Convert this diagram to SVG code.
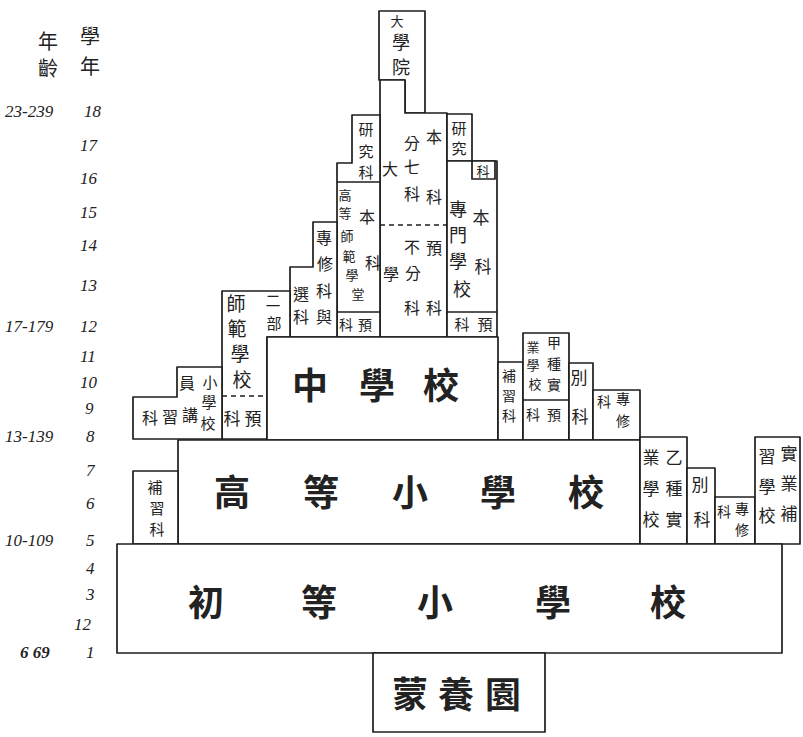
<svg xmlns="http://www.w3.org/2000/svg" width="803" height="737" viewBox="0 0 803 737">
<style>
.b{fill:#fff;stroke:#1e1e1e;stroke-width:1.7;stroke-linejoin:round}
.l{fill:none;stroke:#1e1e1e;stroke-width:1.5}
.d{fill:none;stroke:#1e1e1e;stroke-width:1.3;stroke-dasharray:5 4}
.t{font-family:"Noto Sans CJK TC","Noto Sans CJK JP",sans-serif;fill:#222;text-anchor:middle;dominant-baseline:central}
.s13{font-size:13px}.s14{font-size:14px}.s15{font-size:15px}.s16{font-size:16px}.s17{font-size:17px}.s18{font-size:18px}.s19{font-size:19px}.s20{font-size:20px}
.big{font-size:36px;font-weight:bold}
.n{font-family:"Liberation Serif",serif;font-style:italic;font-size:17px;fill:#222}
</style>
<rect width="803" height="737" fill="#fff"/>

<g id="axis">
<text class="t s20" x="48" y="40">年</text>
<text class="t s20" x="48" y="67">齡</text>
<text class="t s20" x="90" y="35">學</text>
<text class="t s20" x="90" y="65">年</text>
<text class="n" x="5" y="117">23-239</text>
<text class="n" x="84" y="117">18</text>
<text class="n" x="80" y="151">17</text>
<text class="n" x="80" y="184">16</text>
<text class="n" x="80" y="218">15</text>
<text class="n" x="80" y="251">14</text>
<text class="n" x="80" y="291">13</text>
<text class="n" x="5" y="332">17-179</text>
<text class="n" x="80" y="332">12</text>
<text class="n" x="80" y="362">11</text>
<text class="n" x="80" y="388">10</text>
<text class="n" x="85" y="414">9</text>
<text class="n" x="5" y="442">13-139</text>
<text class="n" x="86" y="442">8</text>
<text class="n" x="86" y="476">7</text>
<text class="n" x="86" y="509">6</text>
<text class="n" x="5" y="546">10-109</text>
<text class="n" x="86" y="546">5</text>
<text class="n" x="86" y="574">4</text>
<text class="n" x="86" y="600">3</text>
<text class="n" x="74" y="630">12</text>
<text class="n" x="20" y="658" font-weight="bold">6 69</text>
<text class="n" x="86" y="658">1</text>
</g>

<g id="daigakuin">
<polygon class="b" points="379,11 425,11 425,113 405,113 405,80 379,80"/>
<text class="t s13" x="397" y="20">大</text>
<text class="t s18" x="401" y="41">學</text>
<text class="t s18" x="401" y="66">院</text>
</g>

<g id="daigaku">
<polygon class="b" points="380,80 405,80 405,113 447,113 447,337 380,337"/>
<line class="d" x1="380" y1="225" x2="447" y2="225"/>
<text class="t s16" x="434" y="136">本</text>
<text class="t s16" x="412" y="142">分</text>
<text class="t s16" x="390" y="168">大</text>
<text class="t s16" x="412" y="166">七</text>
<text class="t s16" x="412" y="193">科</text>
<text class="t s16" x="434" y="196">科</text>
<text class="t s16" x="412" y="246">不</text>
<text class="t s16" x="434" y="247">預</text>
<text class="t s16" x="391" y="273">學</text>
<text class="t s16" x="413" y="272">分</text>
<text class="t s16" x="412" y="307">科</text>
<text class="t s16" x="434" y="307">科</text>
</g>

<g id="senmon-gakkou">
<rect class="b" x="447" y="114" width="25" height="47"/>
<rect class="b" x="447" y="161" width="50" height="176"/>
<rect class="b" x="472" y="161" width="23" height="18"/>
<line class="l" x1="447" y1="312" x2="497" y2="312"/>
<text class="t s15" x="459" y="127">研</text>
<text class="t s15" x="459" y="147">究</text>
<text class="t s13" x="483" y="170">科</text>
<text class="t s18" x="458" y="208">專</text>
<text class="t s18" x="458" y="234">門</text>
<text class="t s18" x="458" y="260">學</text>
<text class="t s18" x="462" y="288">校</text>
<text class="t s17" x="481" y="216">本</text>
<text class="t s17" x="483" y="265">科</text>
<text class="t s15" x="462" y="323">科</text>
<text class="t s15" x="485" y="323">預</text>
</g>

<g id="koutou-shihan">
<polygon class="b" points="337,163 352,163 352,115 380,115 380,337 337,337"/>
<line class="l" x1="337" y1="182" x2="380" y2="182"/>
<line class="l" x1="337" y1="312" x2="380" y2="312"/>
<text class="t s15" x="366" y="128">研</text>
<text class="t s15" x="366" y="150">究</text>
<text class="t s15" x="366" y="171">科</text>
<text class="t s13" x="345" y="194">高</text>
<text class="t s13" x="345" y="212">等</text>
<text class="t s16" x="367" y="216">本</text>
<text class="t s13" x="347" y="235">師</text>
<text class="t s13" x="349" y="255">範</text>
<text class="t s13" x="352" y="274">學</text>
<text class="t s13" x="358" y="293">堂</text>
<text class="t s16" x="373" y="262">科</text>
<text class="t s14" x="346" y="324">科</text>
<text class="t s14" x="365" y="324">預</text>
</g>

<g id="senka">
<polygon class="b" points="290,267 313,267 313,222 337,222 337,337 290,337"/>
<text class="t s16" x="324" y="237">專</text>
<text class="t s16" x="325" y="263">修</text>
<text class="t s16" x="324" y="290">科</text>
<text class="t s16" x="324" y="316">與</text>
<text class="t s16" x="301" y="293">選</text>
<text class="t s16" x="301" y="316">科</text>
</g>

<g id="shihan">
<polygon class="b" points="222,291 290,291 290,337 267,337 267,439 222,439"/>
<line class="d" x1="222" y1="396" x2="267" y2="396"/>
<text class="t s19" x="236" y="302">師</text>
<text class="t s19" x="237" y="327">範</text>
<text class="t s19" x="240" y="352">學</text>
<text class="t s19" x="242" y="378">校</text>
<text class="t s15" x="273" y="299">二</text>
<text class="t s15" x="274" y="322">部</text>
<text class="t s17" x="232" y="417">科</text>
<text class="t s17" x="253" y="417">預</text>
</g>

<g id="shougakkou-kyouin">
<polygon class="b" points="133,397 177,397 177,367 222,367 222,439 133,439"/>
<text class="t s16" x="187" y="382">員</text>
<text class="t s15" x="210" y="381">小</text>
<text class="t s15" x="209" y="401">學</text>
<text class="t s15" x="208" y="422">校</text>
<text class="t s16" x="150" y="417">科</text>
<text class="t s16" x="170" y="416">習</text>
<text class="t s16" x="190" y="414">講</text>
</g>

<g id="chuugakkou">
<rect class="b" x="267" y="337" width="231" height="103"/>
<text class="t big" x="310" y="383">中</text>
<text class="t big" x="377" y="383">學</text>
<text class="t big" x="441" y="383">校</text>
</g>

<g id="hoshuuka-1">
<rect class="b" x="498" y="362" width="25" height="78"/>
<text class="t s14" x="509" y="375">補</text>
<text class="t s14" x="509" y="395">習</text>
<text class="t s14" x="509" y="415">科</text>
</g>

<g id="kousu-jitsugyou">
<rect class="b" x="523" y="333" width="46" height="107"/>
<line class="l" x1="523" y1="400" x2="569" y2="400"/>
<text class="t s14" x="554" y="342">甲</text>
<text class="t s14" x="554" y="363">種</text>
<text class="t s14" x="554" y="384">實</text>
<text class="t s13" x="533" y="346">業</text>
<text class="t s13" x="533" y="364">學</text>
<text class="t s13" x="535" y="383">校</text>
<text class="t s14" x="533" y="414">科</text>
<text class="t s14" x="554" y="414">預</text>
</g>

<g id="bekka-1">
<rect class="b" x="569" y="363" width="24" height="77"/>
<text class="t s17" x="579" y="376">別</text>
<text class="t s17" x="580" y="415">科</text>
</g>

<g id="senshuuka-1">
<rect class="b" x="593" y="390" width="47" height="50"/>
<text class="t s14" x="604" y="401">科</text>
<text class="t s14" x="623" y="398">專</text>
<text class="t s14" x="623" y="420">修</text>
</g>

<g id="koutou-shougakkou">
<rect class="b" x="178" y="440" width="462" height="104"/>
<text class="t big" x="232" y="490">高</text>
<text class="t big" x="321" y="490">等</text>
<text class="t big" x="410" y="490">小</text>
<text class="t big" x="498" y="490">學</text>
<text class="t big" x="586" y="490">校</text>
</g>

<g id="hoshuuka-2">
<rect class="b" x="133" y="471" width="45" height="73"/>
<text class="t s15" x="155" y="486">補</text>
<text class="t s15" x="157" y="507">習</text>
<text class="t s15" x="157" y="528">科</text>
</g>

<g id="otsu-jitsugyou">
<rect class="b" x="640" y="437" width="47" height="107"/>
<text class="t s17" x="651" y="456">業</text>
<text class="t s17" x="674" y="456">乙</text>
<text class="t s17" x="651" y="487">學</text>
<text class="t s17" x="674" y="487">種</text>
<text class="t s17" x="651" y="518">校</text>
<text class="t s17" x="674" y="518">實</text>
</g>

<g id="bekka-2">
<rect class="b" x="687" y="468" width="28" height="76"/>
<text class="t s17" x="700" y="483">別</text>
<text class="t s17" x="702" y="518">科</text>
</g>

<g id="senshuuka-2">
<rect class="b" x="715" y="497" width="40" height="47"/>
<text class="t s14" x="724" y="511">科</text>
<text class="t s14" x="742" y="508">專</text>
<text class="t s14" x="742" y="529">修</text>
</g>

<g id="jitsugyou-hoshuu">
<rect class="b" x="755" y="437" width="45" height="107"/>
<text class="t s17" x="789" y="452">實</text>
<text class="t s17" x="789" y="482">業</text>
<text class="t s17" x="789" y="512">補</text>
<text class="t s17" x="767" y="455">習</text>
<text class="t s17" x="767" y="485">學</text>
<text class="t s17" x="767" y="514">校</text>
</g>

<g id="jinjou-shougakkou">
<rect class="b" x="117" y="544" width="665" height="109"/>
<text class="t big" x="206" y="600">初</text>
<text class="t big" x="319" y="600">等</text>
<text class="t big" x="435" y="600">小</text>
<text class="t big" x="553" y="600">學</text>
<text class="t big" x="668" y="600">校</text>
</g>

<g id="mouyouen">
<rect class="b" x="373" y="653" width="172" height="79"/>
<text class="t big" x="410" y="692">蒙</text>
<text class="t big" x="456" y="692">養</text>
<text class="t big" x="503" y="692">園</text>
</g>

<g id="connectors"></g>
</svg>
